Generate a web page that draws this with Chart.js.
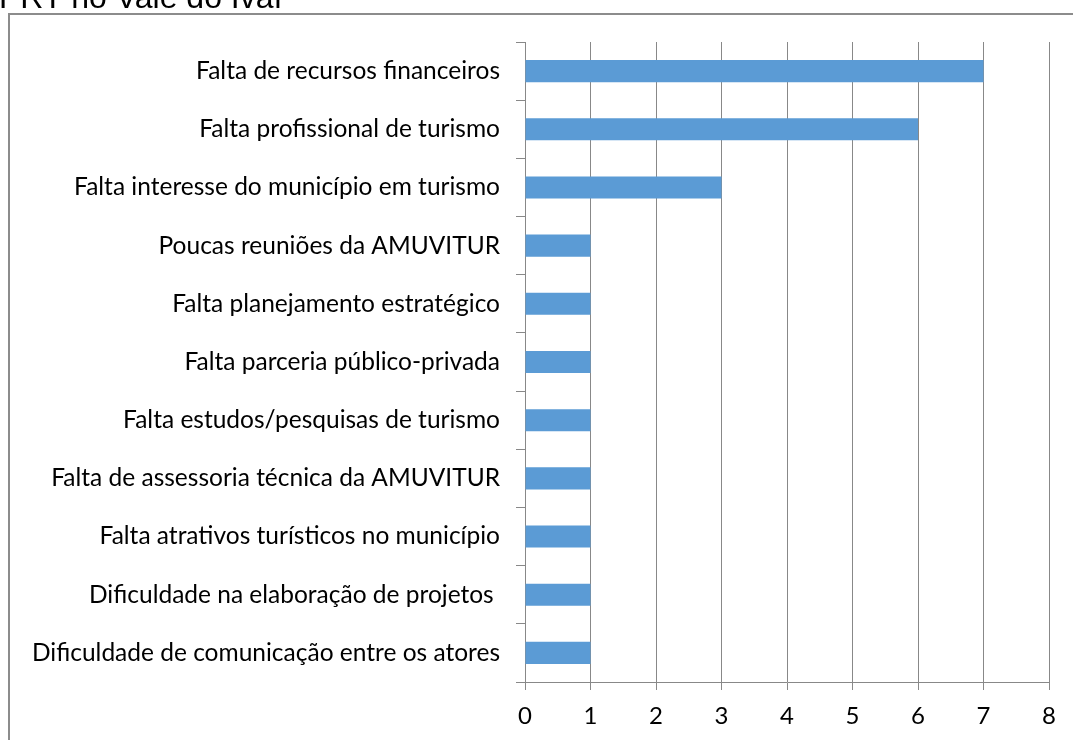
<!DOCTYPE html>
<html>
<head>
<meta charset="utf-8">
<script src="https://cdn.jsdelivr.net/npm/chart.js@4/dist/chart.umd.min.js"></script>
<style>
  html, body { margin: 0; padding: 0; background: #fff; }
  #wrap { position: relative; width: 1073px; height: 740px; }
</style>
</head>
<body>
<div id="wrap"><canvas id="myChart" width="1073" height="740"></canvas></div>
<script>
'use strict';

// data

let titleText = 'PRT no Vale do Ivaí';

let categories = [
  'Falta de recursos financeiros',
  'Falta profissional de turismo',
  'Falta interesse do município em turismo',
  'Poucas reuniões da AMUVITUR',
  'Falta planejamento estratégico',
  'Falta parceria público-privada',
  'Falta estudos/pesquisas de turismo',
  'Falta de assessoria técnica da AMUVITUR',
  'Falta atrativos turísticos no município',
  'Dificuldade na elaboração de projetos ',
  'Dificuldade de comunicação entre os atores'
];

let counts = [7, 6, 3, 1, 1, 1, 1, 1, 1, 1, 1];

let xTicks = [0, 1, 2, 3, 4, 5, 6, 7, 8];

// frame + cut title

const framePlugin = {
  id: 'frame',
  beforeDraw(chart) {
    const c = chart.ctx;
    c.save();
    c.strokeStyle = '#8c8c8c';
    c.lineWidth = 2;
    c.beginPath();
    c.moveTo(9, 760);
    c.lineTo(9, 14);
    c.lineTo(1090, 14);
    c.stroke();
    c.fillStyle = '#000';
    c.font = '32px "Liberation Sans", Arial, sans-serif';
    c.textBaseline = 'alphabetic';
    c.textAlign = 'left';
    c.fillText(titleText, -1, 8);
    c.restore();
  }
};

const ctx = document.getElementById('myChart');
const gridColor = '#888888';

new Chart(ctx, {
  type: 'bar',
  data: {
    labels: categories,
    datasets: [{
      data: counts,
      backgroundColor: '#5B9BD5',
      borderWidth: 0,
      barPercentage: 0.38,
      categoryPercentage: 1
    }]
  },
  options: {
    indexAxis: 'y',
    responsive: false,
    animation: false,
    layout: { padding: { top: 42, right: 24, left: 0, bottom: 0 } },
    plugins: {
      legend: { display: false },
      tooltip: { enabled: false }
    },
    scales: {
      x: {
        min: 0,
        max: 8,
        afterBuildTicks(axis) {
          axis.ticks = xTicks.map(v => ({ value: v }));
        },
        afterFit(axis) { axis.height = 58; },
        grid: {
          color: gridColor,
          lineWidth: 1,
          tickLength: 8,
          drawTicks: true
        },
        border: { color: gridColor, width: 1 },
        ticks: {
          color: '#000',
          padding: 12,
          font: { family: 'Lato, "Open Sans", sans-serif', size: 24 }
        }
      },
      y: {
        afterFit(axis) { axis.width = 525; },
        grid: {
          color: gridColor,
          drawOnChartArea: false,
          drawTicks: true,
          tickLength: 9,
          offset: true
        },
        border: { color: gridColor, width: 1 },
        ticks: {
          color: '#000',
          padding: 16,
          autoSkip: false,
          font: { family: 'Lato, "Open Sans", sans-serif', size: 24.5 }
        }
      }
    }
  },
  plugins: [framePlugin]
});
</script>
</body>
</html>
